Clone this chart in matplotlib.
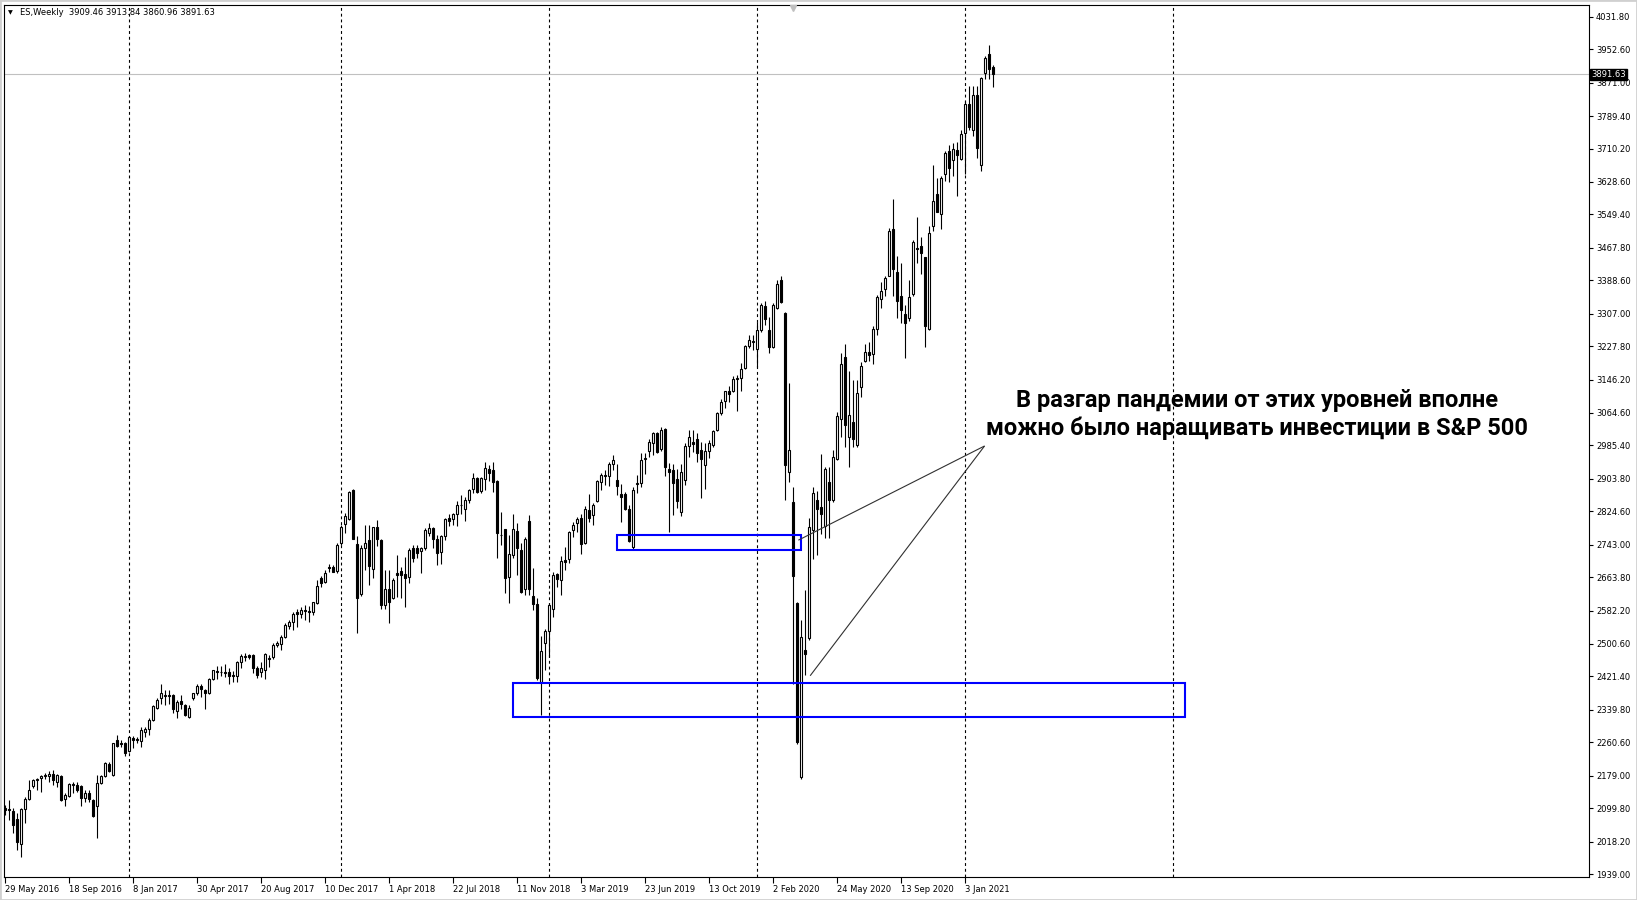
import matplotlib
matplotlib.use("Agg")
import matplotlib.pyplot as plt
import matplotlib.transforms as mtransforms
from matplotlib.patches import Rectangle
import numpy as np

# ---------------- data (weekly ES candles, starting 29 May 2016) ----------------
opens = [2099, 2097, 2093, 2073, 2013, 2097, 2121, 2154, 2168, 2174,
         2179, 2178, 2182, 2164, 2179, 2121, 2130, 2157, 2157, 2154,
         2125, 2136, 2119, 2105, 2162, 2179, 2207, 2180, 2266, 2259,
         2259, 2240, 2272, 2269, 2264, 2285, 2292, 2315, 2345, 2368,
         2376, 2376, 2376, 2337, 2361, 2351, 2323, 2369, 2380, 2398,
         2388, 2382, 2414, 2435, 2433, 2433, 2431, 2425, 2423, 2457,
         2470, 2473, 2473, 2443, 2431, 2438, 2465, 2469, 2499, 2500,
         2517, 2545, 2555, 2579, 2575, 2583, 2581, 2578, 2601, 2661,
         2653, 2689, 2689, 2679, 2746, 2793, 2805, 2876, 2744, 2622,
         2736, 2754, 2683, 2785, 2754, 2596, 2636, 2612, 2675, 2679,
         2671, 2665, 2734, 2734, 2728, 2734, 2772, 2783, 2758, 2724,
         2764, 2807, 2805, 2817, 2841, 2829, 2853, 2878, 2905, 2874,
         2903, 2927, 2925, 2898, 2766, 2782, 2664, 2717, 2776, 2731,
         2634, 2800, 2617, 2598, 2408, 2503, 2532, 2587, 2671, 2658,
         2705, 2709, 2778, 2795, 2807, 2746, 2827, 2815, 2850, 2896,
         2912, 2910, 2941, 2902, 2866, 2866, 2829, 2738, 2891, 2894,
         2951, 2972, 2992, 3016, 2976, 3025, 2929, 2925, 2903, 2823,
         2902, 2984, 2994, 3000, 2974, 2937, 2972, 2986, 3023, 3065,
         3094, 3118, 3118, 3147, 3149, 3175, 3228, 3238, 3220, 3267,
         3326, 3267, 3225, 3322, 3389, 3309, 2921, 2848, 2601, 2176,
         2487, 2514, 2780, 2852, 2834, 2788, 2896, 2852, 2951, 3051,
         3200, 3006, 3043, 2986, 3127, 3192, 3214, 3208, 3269, 3342,
         3367, 3400, 3514, 3408, 3351, 3306, 3296, 3354, 3467, 3473,
         3445, 3269, 3520, 3599, 3551, 3648, 3703, 3683, 3707, 3684,
         3748, 3819, 3756, 3841, 3670, 3894, 3941, 3909.46]
highs = [2108, 2119, 2099, 2087, 2101, 2128, 2168, 2170, 2174, 2180,
         2185, 2190, 2193, 2184, 2180, 2136, 2160, 2164, 2164, 2156,
         2144, 2144, 2121, 2180, 2180, 2213, 2213, 2260, 2278, 2266,
         2262, 2277, 2276, 2274, 2297, 2298, 2319, 2351, 2368, 2404,
         2388, 2388, 2378, 2363, 2376, 2355, 2351, 2382, 2403, 2402,
         2390, 2418, 2438, 2447, 2447, 2451, 2441, 2435, 2460, 2475,
         2479, 2477, 2475, 2447, 2457, 2479, 2473, 2502, 2508, 2522,
         2553, 2559, 2579, 2585, 2592, 2596, 2593, 2604, 2658, 2666,
         2681, 2697, 2693, 2746, 2791, 2820, 2874, 2879, 2764, 2742,
         2791, 2791, 2787, 2803, 2756, 2681, 2681, 2661, 2718, 2689,
         2714, 2734, 2742, 2742, 2738, 2783, 2795, 2787, 2767, 2767,
         2807, 2817, 2820, 2849, 2864, 2860, 2880, 2918, 2909, 2909,
         2945, 2937, 2944, 2900, 2822, 2782, 2766, 2817, 2795, 2746,
         2762, 2815, 2685, 2612, 2520, 2538, 2601, 2677, 2674, 2715,
         2738, 2776, 2799, 2811, 2819, 2837, 2866, 2844, 2900, 2918,
         2925, 2945, 2962, 2941, 2892, 2872, 2839, 2884, 2913, 2968,
         2966, 3002, 3019, 3019, 3031, 3027, 2943, 2941, 2927, 2941,
         2992, 3024, 3023, 3015, 2994, 2992, 2998, 3023, 3068, 3098,
         3119, 3131, 3155, 3157, 3186, 3230, 3255, 3255, 3287, 3332,
         3339, 3300, 3332, 3388, 3399, 3312, 3138, 2883, 2603, 2560,
         2633, 2809, 2883, 2874, 2964, 2933, 2933, 2974, 3067, 3210,
         3234, 3167, 3146, 3146, 3189, 3234, 3238, 3276, 3353, 3385,
         3398, 3516, 3587, 3448, 3430, 3328, 3390, 3487, 3544, 3494,
         3446, 3520, 3670, 3638, 3642, 3703, 3719, 3723, 3726, 3756,
         3825, 3863, 3862, 3862, 3886, 3935, 3962, 3913.84]
lows = [2082, 2070, 2040, 1997, 1981, 2064, 2119, 2148, 2144, 2140,
        2172, 2164, 2156, 2152, 2118, 2106, 2127, 2136, 2140, 2106,
        2115, 2114, 2077, 2027, 2158, 2176, 2189, 2178, 2250, 2250,
        2227, 2237, 2247, 2258, 2250, 2274, 2278, 2312, 2343, 2355,
        2351, 2355, 2331, 2319, 2343, 2325, 2320, 2363, 2376, 2372,
        2343, 2378, 2412, 2414, 2422, 2420, 2402, 2408, 2408, 2441,
        2460, 2465, 2429, 2418, 2420, 2416, 2445, 2465, 2492, 2486,
        2514, 2537, 2535, 2541, 2563, 2559, 2555, 2571, 2597, 2640,
        2649, 2677, 2677, 2675, 2742, 2771, 2803, 2758, 2528, 2618,
        2681, 2645, 2662, 2740, 2585, 2586, 2551, 2610, 2616, 2612,
        2590, 2650, 2700, 2710, 2675, 2730, 2764, 2736, 2693, 2697,
        2754, 2789, 2791, 2788, 2819, 2801, 2845, 2870, 2868, 2868,
        2876, 2899, 2872, 2711, 2742, 2625, 2601, 2711, 2669, 2625,
        2620, 2620, 2583, 2412, 2327, 2438, 2469, 2567, 2640, 2621,
        2681, 2699, 2762, 2774, 2721, 2744, 2799, 2791, 2848, 2876,
        2888, 2886, 2925, 2864, 2799, 2827, 2750, 2731, 2868, 2885,
        2915, 2956, 2962, 2968, 2972, 2911, 2775, 2815, 2832, 2813,
        2889, 2958, 2970, 2946, 2856, 2880, 2954, 2982, 3020, 3060,
        3076, 3092, 3116, 3070, 3119, 3173, 3222, 3218, 3178, 3263,
        3279, 3212, 3222, 3318, 3332, 2852, 2897, 2404, 2257, 2172,
        2424, 2510, 2709, 2717, 2770, 2760, 2760, 2848, 2949, 3005,
        2982, 2933, 2982, 2982, 3104, 3188, 3192, 3185, 3255, 3320,
        3349, 3398, 3349, 3296, 3284, 3198, 3290, 3349, 3430, 3403,
        3225, 3267, 3508, 3554, 3513, 3630, 3628, 3642, 3595, 3683,
        3648, 3756, 3740, 3687, 3656, 3880, 3880, 3860.96]
closes = [2095, 2095, 2058, 2018, 2097, 2121, 2145, 2168, 2171, 2178,
          2181, 2182, 2168, 2180, 2119, 2133, 2158, 2158, 2144, 2125,
          2136, 2122, 2080, 2160, 2179, 2211, 2191, 2258, 2251, 2257,
          2235, 2274, 2267, 2266, 2290, 2293, 2315, 2349, 2363, 2382,
          2373, 2373, 2342, 2359, 2353, 2327, 2345, 2380, 2398, 2390,
          2382, 2414, 2437, 2431, 2431, 2430, 2422, 2422, 2457, 2472,
          2472, 2470, 2441, 2425, 2443, 2476, 2467, 2499, 2502, 2517,
          2547, 2555, 2575, 2575, 2583, 2580, 2578, 2602, 2642, 2650,
          2675, 2685, 2677, 2742, 2787, 2813, 2871, 2758, 2612, 2736,
          2746, 2691, 2785, 2756, 2596, 2636, 2604, 2658, 2670, 2670,
          2662, 2730, 2711, 2722, 2736, 2779, 2783, 2756, 2722, 2764,
          2805, 2802, 2817, 2841, 2839, 2853, 2876, 2907, 2872, 2905,
          2931, 2919, 2895, 2772, 2766, 2662, 2721, 2782, 2735, 2628,
          2758, 2634, 2599, 2418, 2483, 2532, 2595, 2668, 2660, 2704,
          2701, 2773, 2792, 2805, 2744, 2829, 2807, 2839, 2898, 2914,
          2910, 2941, 2949, 2887, 2860, 2829, 2752, 2876, 2894, 2950,
          2954, 2994, 3016, 2970, 3023, 2933, 2921, 2893, 2850, 2921,
          2984, 3007, 2988, 2968, 2951, 2972, 2992, 3020, 3065, 3092,
          3118, 3110, 3147, 3149, 3173, 3228, 3243, 3240, 3267, 3328,
          3293, 3226, 3328, 3379, 3336, 2937, 2974, 2667, 2261, 2518,
          2477, 2786, 2868, 2829, 2819, 2929, 2852, 2956, 3057, 3185,
          3035, 3059, 3002, 3114, 3179, 3214, 3206, 3269, 3347, 3363,
          3394, 3508, 3416, 3337, 3316, 3285, 3347, 3481, 3464, 3455,
          3278, 3503, 3583, 3556, 3638, 3699, 3662, 3709, 3695, 3746,
          3819, 3762, 3841, 3711, 3882, 3931, 3904, 3891.63]

date_labels = ["29 May 2016", "18 Sep 2016", "8 Jan 2017", "30 Apr 2017",
               "20 Aug 2017", "10 Dec 2017", "1 Apr 2018", "22 Jul 2018",
               "11 Nov 2018", "3 Mar 2019", "23 Jun 2019", "13 Oct 2019",
               "2 Feb 2020", "24 May 2020", "13 Sep 2020", "3 Jan 2021"]
date_label_bars = [0, 16, 32, 48, 64, 80, 96, 112, 128, 144, 160, 176,
                   192, 208, 224, 240]
price_ticks = [4031.80, 3952.60, 3871.00, 3789.40, 3710.20, 3628.60, 3549.40,
               3467.80, 3388.60, 3307.00, 3227.80, 3146.20, 3064.60, 2985.40,
               2903.80, 2824.60, 2743.00, 2663.80, 2582.20, 2500.60, 2421.40,
               2339.80, 2260.60, 2179.00, 2099.80, 2018.20, 1939.00]
year_start_bars = [31, 84, 136, 188, 240, 292]

# annotation zones (price levels and bar spans)
zone_big_bars = (126.85, 294.9)
zone_big_prices = (2323.0, 2405.3)
zone_small_bars = (152.85, 198.9)
zone_small_prices = (2730.0, 2766.6)
arrow_tip = (244.8, 2984.0)
arrow_ends = [(198.25, 2754.0), (201.2, 2423.0)]

title_text = "ES,Weekly  3909.46 3913.84 3860.96 3891.63"
note_line1 = "В разгар пандемии от этих уровней вполне"
note_line2 = "можно было наращивать инвестиции в S&P 500"

# ---------------- figure ----------------
W, H = 1637, 900
fig = plt.figure(figsize=(W / 100, H / 100), dpi=100)
fig.patch.set_facecolor("white")

ax_l, ax_r, ax_t, ax_b = 4, 1589, 4.5, 877
ax = fig.add_axes([ax_l / W, 1 - ax_b / H, (ax_r - ax_l) / W, (ax_b - ax_t) / H])
ax.set_facecolor("white")

o = np.array(opens, float)
h = np.array(highs, float)
l = np.array(lows, float)
c = np.array(closes, float)
x = np.arange(len(o))
up = c >= o

ax.vlines(x, l, h, color="black", lw=0.8, zorder=3)
bottom = np.minimum(o, c)
height = np.abs(c - o)
ax.bar(x[up], height[up], bottom=bottom[up], width=0.55, facecolor="white",
       edgecolor="black", lw=0.8, zorder=4)
ax.bar(x[~up], height[~up], bottom=bottom[~up], width=0.55, facecolor="black",
       edgecolor="black", lw=0.8, zorder=4)

# period separators
for b in year_start_bars:
    ax.axvline(b, color="black", lw=0.8, linestyle=(0, (2.6, 2.6)), zorder=1)

# last price line
last = closes[-1]
ax.axhline(last, color="#c0c0c0", lw=0.8, zorder=1)

# zones
for (b0, b1), (p0, p1) in [(zone_big_bars, zone_big_prices),
                           (zone_small_bars, zone_small_prices)]:
    ax.add_patch(Rectangle((b0, p0), b1 - b0, p1 - p0, fill=False,
                           edgecolor="#0000ff", lw=1.5, zorder=6))

for ex, ey in arrow_ends:
    ax.plot([arrow_tip[0], ex], [arrow_tip[1], ey], color="#303030", lw=0.8,
            zorder=7, solid_capstyle="butt")

ax.set_xlim(-0.325, 395.9)
ax.set_ylim(1931.7, 4061.8)

# axes styling
for s in ax.spines.values():
    s.set_color("black")
    s.set_linewidth(0.8)
ax.yaxis.tick_right()
ax.set_yticks(price_ticks)
ax.set_yticklabels([f"{v:.2f}" for v in price_ticks])
ax.tick_params(axis="y", direction="out", length=3, width=0.8, pad=2,
               labelsize=6, colors="black")
ax.set_xticks(date_label_bars)
ax.set_xticklabels(date_labels)
for t in ax.get_xticklabels():
    t.set_horizontalalignment("left")
ax.tick_params(axis="x", direction="out", length=4, width=0.8, pad=2,
               labelsize=6, colors="black")

# last price label box
trans = mtransforms.blended_transform_factory(ax.transAxes, ax.transData)
ax.text(1.0015, last, f"{last:.2f}", transform=trans, ha="left", va="center",
        fontsize=6, color="white", zorder=20, clip_on=False,
        bbox=dict(boxstyle="square,pad=0.12", fc="black", ec="black"))

# header
fig.text(8 / W, 1 - 12.5 / H, "\u25BC", fontsize=4.5, va="center", ha="left")
fig.text(20 / W, 1 - 12.5 / H, title_text, fontsize=6, va="center", ha="left")
# chart shift marker
ax.plot([0.498], [0.996], marker="v", markersize=5, color="#c0c0c0",
        transform=ax.transAxes, clip_on=False, zorder=8)

# annotation text
fig.text(1257 / W, 1 - 400 / H, note_line1, fontsize=17, fontweight="bold",
         family="Roboto", ha="center", va="center", color="black")
fig.text(1257 / W, 1 - 428 / H, note_line2, fontsize=17, fontweight="bold",
         family="Roboto", ha="center", va="center", color="black")

# window frame
fig.add_artist(Rectangle((0, 0), 1, 1, transform=fig.transFigure, fill=False,
                         edgecolor="#d0d0d0", lw=2))

fig.savefig("out.png", dpi=100)
